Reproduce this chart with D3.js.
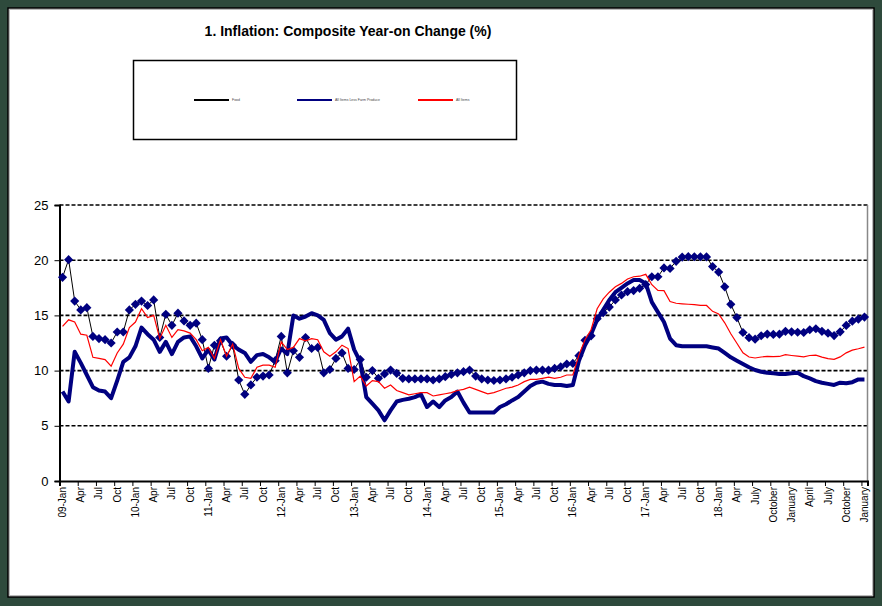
<!DOCTYPE html>
<html>
<head>
<meta charset="utf-8">
<script src="https://cdn.jsdelivr.net/npm/d3@7"></script>
<style>
  body { margin: 0; background: #2e4a3c; }
  text { font-family: Arial, "Liberation Sans", sans-serif; }
</style>
</head>
<body>
<svg id="chart" width="882" height="606"></svg>
<script>
/* global d3 */
// monthly series, Jan 2009 .. Jan 2020
const food = [
  18.45, 20.05, 16.3, 15.5, 15.7, 13.1, 12.9, 12.8, 12.5, 13.5, 13.5, 15.5,
  16.0, 16.3, 15.9, 16.4, 13.0, 15.1, 14.1, 15.2, 14.5, 14.1, 14.3, 12.8,
  10.2, 12.3, 12.7, 11.3, 12.3, 9.15, 7.85, 8.7, 9.4, 9.5, 9.6, 10.9,
  13.1, 9.8, 11.8, 11.2, 13.0, 12.0, 12.1, 9.8, 10.1, 11.1, 11.6, 10.2,
  10.1, 11.0, 9.4, 10.0, 9.3, 9.7, 10.05, 9.75, 9.3, 9.25, 9.25, 9.25,
  9.25, 9.15, 9.25, 9.45, 9.65, 9.8, 9.9, 10.05, 9.5, 9.25, 9.15, 9.1,
  9.15, 9.25, 9.4, 9.6, 9.8, 10.0, 10.05, 10.05, 10.05, 10.2, 10.35, 10.6,
  10.65, 11.35, 12.75, 13.15, 14.7, 15.25, 15.75, 16.4, 16.85, 17.15, 17.25, 17.45,
  17.8, 18.5, 18.5, 19.3, 19.25, 19.9, 20.28, 20.32, 20.31, 20.31, 20.3, 19.42,
  18.92, 17.59, 16.0, 14.8, 13.45, 12.98, 12.85, 13.16, 13.31, 13.28, 13.3, 13.56,
  13.51, 13.47, 13.45, 13.7, 13.79, 13.56, 13.39, 13.17, 13.51, 14.09, 14.48, 14.67,
  14.85
];
const core = [
  8.1, 7.2, 11.7, 10.7, 9.6, 8.5, 8.2, 8.1, 7.5, 9.1, 10.8, 11.2,
  12.2, 13.9, 13.3, 12.8, 11.7, 12.6, 11.5, 12.6, 13.0, 13.1, 12.2, 11.1,
  11.9, 11.0, 12.9, 13.0, 12.3, 11.9, 11.6, 10.8, 11.4, 11.5, 11.2, 10.8,
  12.0, 11.5, 15.0, 14.7, 14.9, 15.2, 15.0, 14.6, 13.4, 12.8, 13.1, 13.8,
  11.9, 10.8, 7.6, 7.0, 6.4, 5.5, 6.4, 7.2, 7.35, 7.45, 7.6, 7.85,
  6.7, 7.2, 6.7, 7.3, 7.6, 8.1, 7.1, 6.2, 6.2, 6.2, 6.2, 6.2,
  6.7, 6.95, 7.3, 7.6, 8.1, 8.6, 8.9, 9.0, 8.8, 8.7, 8.7, 8.6,
  8.7, 10.9, 12.3, 13.3, 14.6, 15.5, 16.4, 17.1, 17.5, 17.9, 18.2, 18.2,
  17.9, 16.2, 15.3, 14.4, 12.9, 12.3, 12.2, 12.2, 12.2, 12.2, 12.2, 12.1,
  12.0, 11.6, 11.2, 10.9, 10.6, 10.3, 10.05, 9.9, 9.8, 9.75, 9.7, 9.7,
  9.75, 9.8, 9.5, 9.3, 9.05, 8.9, 8.8, 8.7, 8.9, 8.85, 8.95, 9.2,
  9.2
];
const allItems = [
  14.0, 14.6, 14.4, 13.3, 13.2, 11.2, 11.1, 11.0, 10.4, 11.6, 12.4, 13.9,
  14.4, 15.6, 14.8, 15.0, 12.9, 14.1, 13.0, 13.7, 13.6, 13.4, 12.8, 11.8,
  12.1, 11.1, 12.8, 11.3, 12.4, 10.2, 9.4, 9.3, 10.3, 10.5, 10.5, 10.3,
  12.6, 11.9, 12.1, 12.9, 12.7, 12.9, 12.8, 11.7, 11.3, 11.7, 12.3, 12.0,
  9.0, 9.5, 8.6, 9.1, 9.0, 8.4, 8.7, 8.2, 8.0, 7.8, 7.9, 8.0,
  8.0, 7.7, 7.8, 7.9, 8.0, 8.2, 8.3, 8.5, 8.3, 8.1, 7.9, 8.0,
  8.2, 8.4, 8.5, 8.7, 9.0, 9.2, 9.2, 9.3, 9.4, 9.3, 9.4, 9.6,
  9.6, 11.4, 12.8, 13.7, 15.6, 16.5, 17.1, 17.6, 17.9, 18.3, 18.5, 18.55,
  18.72, 17.78, 17.26, 17.24, 16.25, 16.1, 16.05, 16.01, 15.98, 15.91, 15.9, 15.37,
  15.13, 14.33, 13.34, 12.48, 11.61, 11.23, 11.14, 11.23, 11.28, 11.26, 11.28, 11.44,
  11.37, 11.31, 11.25, 11.37, 11.4, 11.22, 11.08, 11.02, 11.24, 11.61, 11.85, 11.98,
  12.13
];
// one label every third month
const tickLabels = [
  "09-Jan", "Apr", "Jul", "Oct", "10-Jan", "Apr", "Jul", "Oct",
  "11-Jan", "Apr", "Jul", "Oct", "12-Jan", "Apr", "Jul", "Oct",
  "13-Jan", "Apr", "Jul", "Oct", "14-Jan", "Apr", "Jul", "Oct",
  "15-Jan", "Apr", "Jul", "Oct", "16-Jan", "Apr", "Jul", "Oct",
  "17-Jan", "Apr", "Jul", "Oct", "18-Jan", "Apr", "July", "October",
  "January", "April", "July", "October", "January"
];
const yTicks = [0, 5, 10, 15, 20, 25];
const legendNames = ["Food", "All Items Less Farm Produce", "All Items"];

const svg = d3.select("#chart");

// panel
svg.append("rect")
  .attr("x", 8).attr("y", 8).attr("width", 866).attr("height", 589)
  .attr("fill", "#fff").attr("stroke", "#000").attr("stroke-width", 1.5);
svg.append("rect")
  .attr("x", 9.5).attr("y", 9.5).attr("width", 863).attr("height", 586)
  .attr("fill", "none").attr("stroke", "#bbb").attr("stroke-width", 1);

svg.append("text")
  .attr("x", 348).attr("y", 36)
  .attr("text-anchor", "middle")
  .style("font-size", "14px").style("font-weight", "bold")
  .text("1. Inflation: Composite Year-on Change (%)");

// legend
const leg = svg.append("g");
leg.append("rect")
  .attr("x", 133.5).attr("y", 60.5).attr("width", 383).attr("height", 79)
  .attr("fill", "#fff").attr("stroke", "#000").attr("stroke-width", 1.5);
const legItems = [
  { name: legendNames[0], color: "#000", x: 194 },
  { name: legendNames[1], color: "#000080", x: 297 },
  { name: legendNames[2], color: "#ff0000", x: 418 }
];
legItems.forEach(d => {
  leg.append("line")
    .attr("x1", d.x).attr("x2", d.x + 35).attr("y1", 100).attr("y2", 100)
    .attr("stroke", d.color).attr("stroke-width", 2);
  leg.append("text")
    .attr("x", d.x + 38).attr("y", 101)
    .style("font-size", "3.5px").attr("fill", "#444")
    .text(d.name);
});

// scales
const plotLeft = 59.5, plotRight = 867.5, plotTop = 205, plotBottom = 481;
const x = d3.scaleBand().domain(d3.range(food.length)).range([plotLeft, plotRight]).padding(0);
const xEdge = d3.scaleLinear().domain([0, food.length]).range([plotLeft, plotRight]);
const cx = (i) => x(i) + x.bandwidth() / 2;
const y = d3.scaleLinear().domain([0, 25]).range([plotBottom, plotTop]);

// gridlines
svg.append("g")
  .selectAll("line")
  .data(yTicks.filter(v => v > 0))
  .join("line")
    .attr("x1", plotLeft).attr("x2", plotRight)
    .attr("y1", d => y(d)).attr("y2", d => y(d))
    .attr("stroke", "#000").attr("stroke-width", 1.6)
    .attr("stroke-dasharray", "4,2");

// plot right border
svg.append("line")
  .attr("x1", plotRight).attr("x2", plotRight).attr("y1", plotTop).attr("y2", plotBottom)
  .attr("stroke", "#888").attr("stroke-width", 1.5);

// y axis
const yAxis = svg.append("g")
  .attr("transform", `translate(${plotLeft},0)`)
  .call(d3.axisLeft(y).tickValues(yTicks).tickSize(5).tickPadding(6));
yAxis.selectAll("text").style("font-size", "13px").attr("fill", "#000");
yAxis.select(".domain").attr("stroke-width", 2);

// x axis: ticks on boundaries every 3 months, labels centred on months
const xTickAxis = svg.append("g")
  .attr("transform", `translate(0,${plotBottom})`)
  .call(d3.axisBottom(xEdge).tickValues(d3.range(0, food.length, 3)).tickSize(5).tickFormat(""));
xTickAxis.select(".domain").attr("stroke-width", 2);

const xLabelAxis = svg.append("g")
  .attr("transform", `translate(0,${plotBottom})`)
  .call(d3.axisBottom(x).tickValues(d3.range(0, food.length, 3))
    .tickSize(0).tickFormat(i => tickLabels[i / 3]));
xLabelAxis.select(".domain").remove();
xLabelAxis.selectAll("text")
  .attr("transform", "rotate(-90)")
  .attr("x", -6).attr("y", 0).attr("dy", "0.35em")
  .attr("text-anchor", "end")
  .style("font-size", "10px").attr("fill", "#000");

// series
const line = d3.line().x((d, i) => cx(i)).y(d => y(d));

svg.append("path")
  .datum(food)
  .attr("d", line)
  .attr("fill", "none").attr("stroke", "#000").attr("stroke-width", 1);

const diamond = d3.symbol(d3.symbolSquare, 42);
svg.append("g")
  .selectAll("path")
  .data(food)
  .join("path")
    .attr("d", diamond)
    .attr("transform", (d, i) => `translate(${cx(i)},${y(d)}) rotate(45)`)
    .attr("fill", "#000080");

svg.append("path")
  .datum(core)
  .attr("d", line)
  .attr("fill", "none").attr("stroke", "#000080").attr("stroke-width", 4)
  .attr("stroke-linejoin", "round");

svg.append("path")
  .datum(allItems)
  .attr("d", line)
  .attr("fill", "none").attr("stroke", "#ff0000").attr("stroke-width", 1.2);
</script>
</body>
</html>
